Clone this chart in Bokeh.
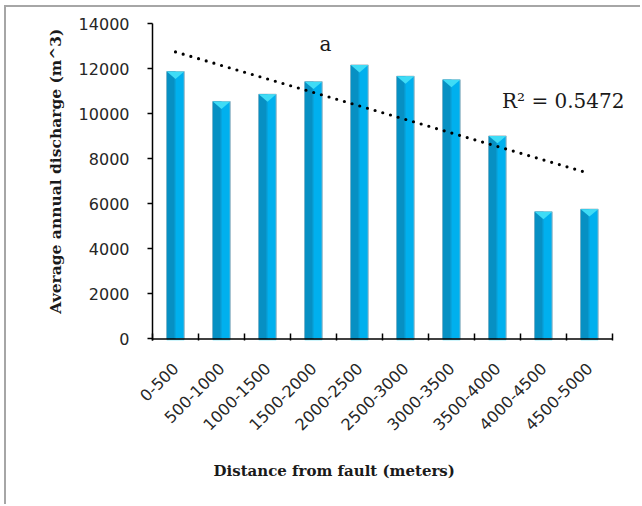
import numpy as np
from bokeh.plotting import figure
from bokeh.models import Range1d, FixedTicker, Label, Title, ColumnDataSource
from bokeh.embed import file_html
from bokeh.resources import INLINE

# Average annual discharge per distance band from the fault
categories = ["0-500", "500-1000", "1000-1500", "1500-2000", "2000-2500",
              "2500-3000", "3000-3500", "3500-4000", "4000-4500", "4500-5000"]
discharge = [11870, 10540, 10860, 11420, 12160, 11660, 11500, 9010, 5640, 5760]
y_ticks = [0, 2000, 4000, 6000, 8000, 10000, 12000, 14000]
r2_text = "R\u00b2 = 0.5472"
panel_tag = "a"
x_title = "Distance from fault (meters)"
y_title = "\u00a0" * 4 + "Average annual discharge (m^3)"

pos = np.arange(len(categories))
vals = np.array(discharge, dtype=float)
bar_w = 0.38
y_floor = -70           # a little room under zero so the baseline is not clipped
x_end = len(categories) - 0.5

p = figure(width=636, height=499, output_backend="svg", toolbar_location=None,
           x_range=Range1d(-0.5, x_end + 0.48),
           y_range=Range1d(y_floor, 14000),
           min_border_left=146, min_border_right=8,
           min_border_top=16, min_border_bottom=166)
p.styles = {"margin-left": "4px", "margin-top": "5px",
            "border-left": "2px solid #a6a6a6", "border-top": "2px solid #a6a6a6"}
p.outline_line_color = None
p.xgrid.grid_line_color = None
p.ygrid.grid_line_color = None
p.background_fill_color = "white"
p.border_fill_color = "white"

src = ColumnDataSource(dict(x=pos, top=vals))
# cylinder body: bright right side, darker left shading, cyan rim at the base
p.vbar(x="x", top="top", bottom=y_floor, width=bar_w, source=src,
       fill_color="#3fdcf6", line_color=None)
p.vbar(x="x", top="top", bottom=0, width=bar_w, source=src,
       fill_color="#00b0ee", line_color="#a9b8c2", line_width=1)
p.vbar(x=pos - bar_w * 0.27, top=vals, bottom=0, width=bar_w * 0.46,
       fill_color="#0790c3", line_color=None)
p.vbar(x=pos - bar_w * 0.02, top=vals, bottom=0, width=bar_w * 0.06,
       fill_color="#0a9fd6", line_color=None)
# cyan cap on each bar
cap_h = 330
xs = [[x - bar_w / 2, x + bar_w / 2, x] for x in pos]
ys = [[v, v, v - cap_h] for v in vals]
p.patches(xs, ys, fill_color="#3fdcf6", line_color=None)

# baseline of the category axis, ending at the last band
p.segment(x0=[-0.5], y0=[0], x1=[x_end], y1=[0], line_color="black", line_width=1.5)

# linear trend line
slope, intercept = np.polyfit(pos, vals, 1)
p.line([pos[0], pos[-1]], [intercept + slope * pos[0], intercept + slope * pos[-1]],
       line_color="black", line_width=3.2, line_dash="0 8", line_cap="round")

p.add_layout(Label(x=8.43, y=10550, text=r2_text, text_align="center",
                   text_baseline="middle", text_font="DejaVu Serif",
                   text_font_size="20px", text_color="#1a1a1a"))
p.add_layout(Label(x=3.26, y=13100, text=panel_tag, text_align="center",
                   text_baseline="middle", text_font="DejaVu Serif",
                   text_font_size="20px", text_color="#1a1a1a"))

# x axis: labels at band centres, ticks on band boundaries
xa = p.xaxis[0]
xa.ticker = FixedTicker(ticks=list(pos), minor_ticks=[i - 0.5 for i in range(len(categories) + 1)])
xa.major_label_overrides = {int(i): c for i, c in zip(pos, categories)}
xa.major_label_orientation = np.pi / 4
xa.major_tick_in = 0
xa.major_tick_out = 0
xa.minor_tick_in = 7
xa.minor_tick_out = 0
xa.minor_tick_line_color = "black"
xa.minor_tick_line_width = 1.5
xa.axis_line_color = None
xa.major_label_text_font = "DejaVu Sans"
xa.major_label_text_font_size = "16px"
xa.major_label_text_color = "#262626"
xa.major_label_standoff = 25

# x title sits left of the frame centre
p.add_layout(Title(text=x_title, align="left", offset=61, standoff=42,
                   text_font="DejaVu Serif", text_font_style="bold",
                   text_font_size="15px", text_color="#1a1a1a"), "below")

ya = p.yaxis[0]
ya.ticker = FixedTicker(ticks=y_ticks, minor_ticks=[])
ya.major_tick_in = 0
ya.major_tick_out = 5
ya.major_tick_line_color = "black"
ya.major_tick_line_width = 1.5
ya.axis_line_color = "black"
ya.axis_line_width = 1.5
ya.major_label_text_font = "DejaVu Sans"
ya.major_label_text_font_size = "16px"
ya.major_label_text_color = "#262626"
ya.major_label_standoff = 18
ya.axis_label = y_title
ya.axis_label_text_font = "DejaVu Serif"
ya.axis_label_text_font_style = "bold"
ya.axis_label_text_font_size = "15.5px"
ya.axis_label_text_color = "#1a1a1a"
ya.axis_label_standoff = 11

open("out.html", "w").write(file_html(p, INLINE))
